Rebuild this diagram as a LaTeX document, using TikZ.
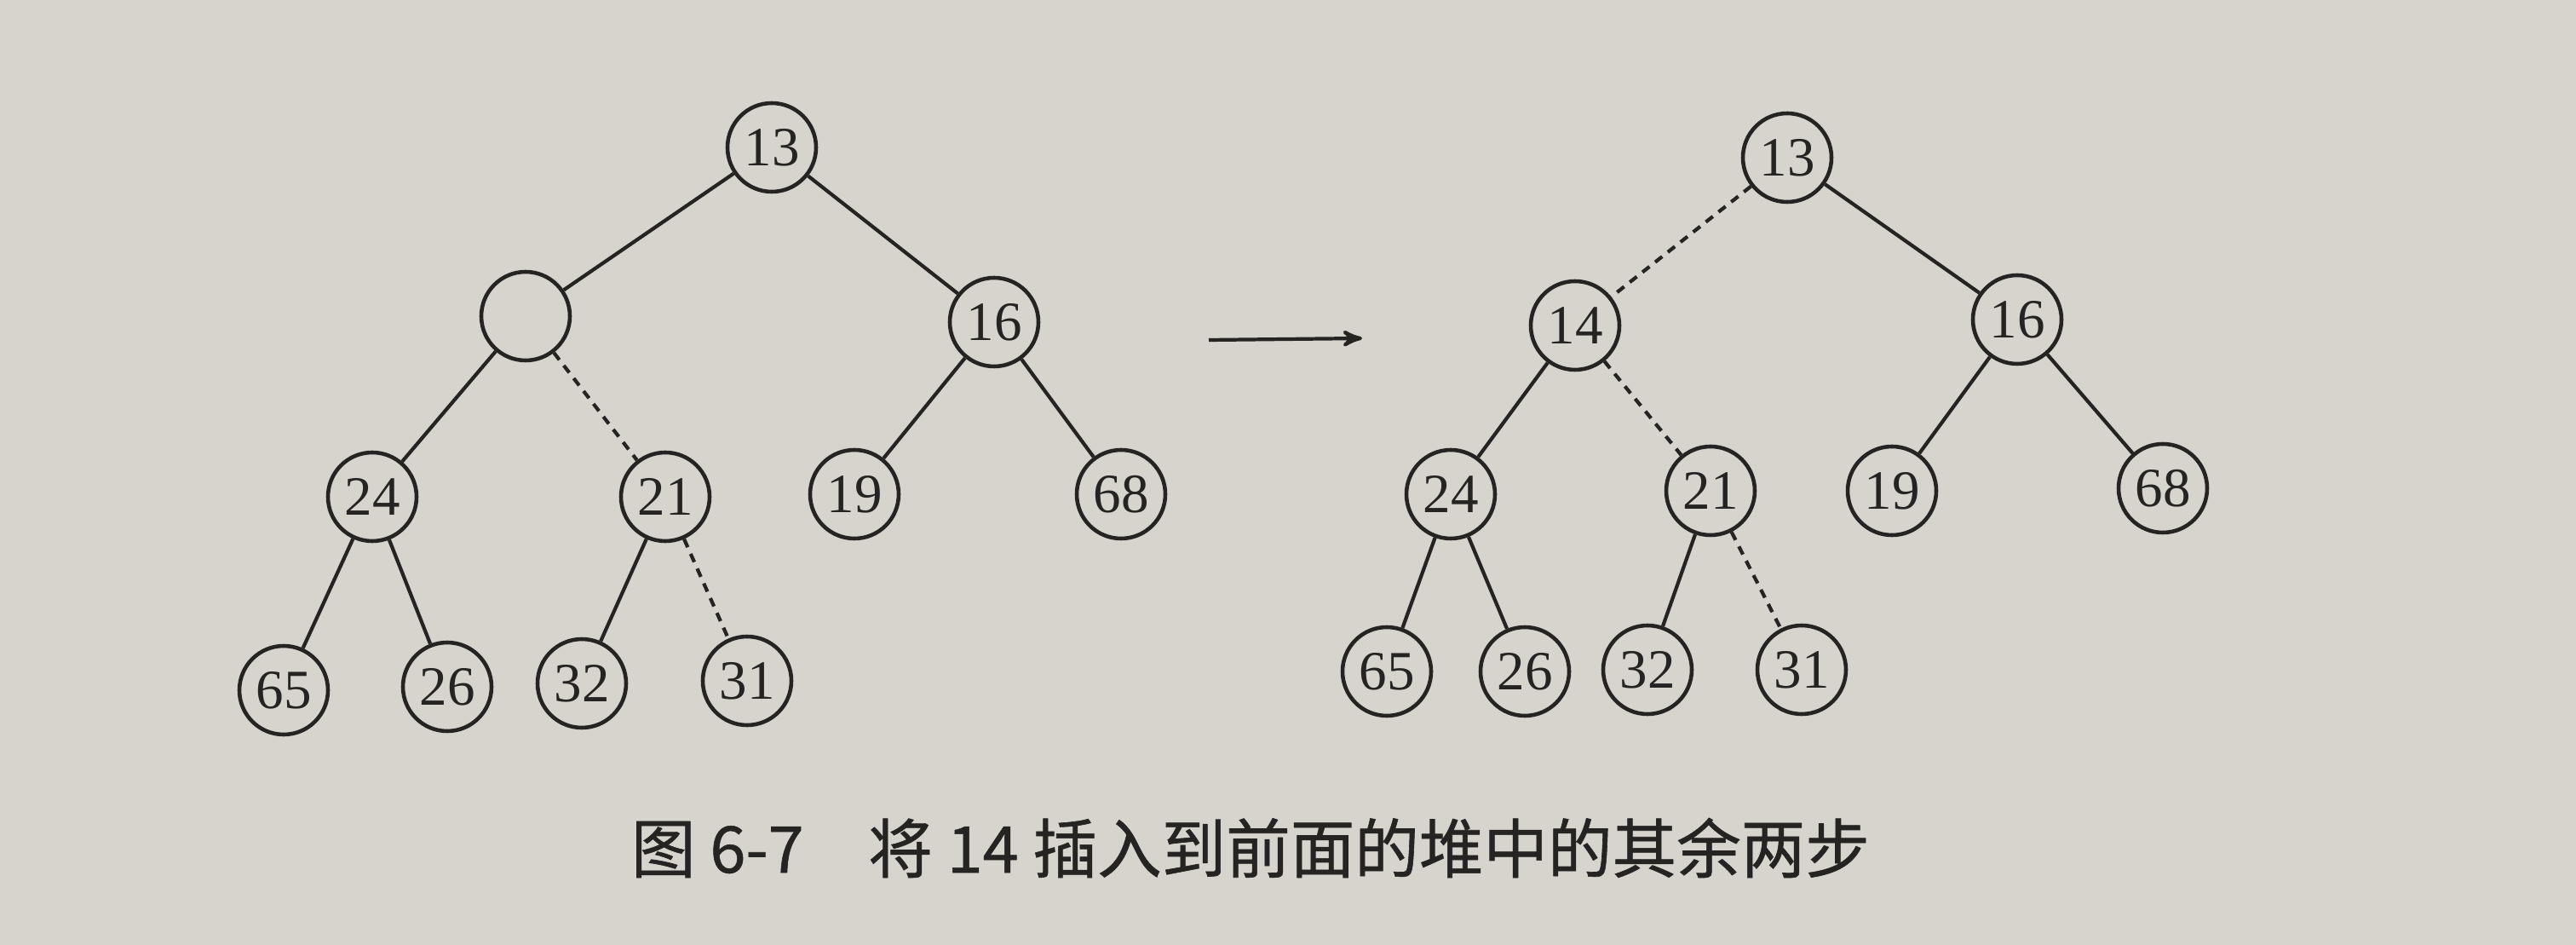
\documentclass[tikz,border=0pt]{standalone}
\usepackage{fontspec}
\setmainfont{Liberation Serif}
\newfontfamily\cjk[FakeBold=0.8]{Noto Sans CJK SC}
\usetikzlibrary{arrows}
\definecolor{paper}{RGB}{214,212,204}
\definecolor{ink}{RGB}{38,36,34}

\begin{document}
\begin{tikzpicture}[-,>=stealth',line width=1.2pt,draw=ink,
                    main node/.style={circle,draw=ink,line width=1.3pt,minimum size=1.04cm,inner sep=0pt,
                                      text=ink,font=\fontsize{18.5}{18.5}\selectfont}]
  \fill[paper] (0,0) rectangle (30.24,-11.09);
  \useasboundingbox (0,0) rectangle (30.24,-11.09);

  % heap with the hole
  \node[main node] (l13) at (9.06,-1.73) {13};
  \node[main node] (lx)  at (6.17,-3.71) {};
  \node[main node] (l16) at (11.67,-3.78) {16};
  \node[main node] (l24) at (4.37,-5.83) {24};
  \node[main node] (l21) at (7.81,-5.83) {21};
  \node[main node] (l19) at (10.03,-5.80) {19};
  \node[main node] (l68) at (13.16,-5.80) {68};
  \node[main node] (l65) at (3.33,-8.10) {65};
  \node[main node] (l26) at (5.25,-8.06) {26};
  \node[main node] (l32) at (6.83,-8.02) {32};
  \node[main node] (l31) at (8.77,-7.99) {31};

  % heap after 14 is in place
  \node[main node] (r13) at (20.98,-1.85) {13};
  \node[main node] (r14) at (18.49,-3.82) {14};
  \node[main node] (r16) at (23.68,-3.75) {16};
  \node[main node] (r24) at (17.03,-5.80) {24};
  \node[main node] (r21) at (20.08,-5.76) {21};
  \node[main node] (r19) at (22.21,-5.76) {19};
  \node[main node] (r68) at (25.39,-5.73) {68};
  \node[main node] (r65) at (16.28,-7.88) {65};
  \node[main node] (r26) at (17.90,-7.88) {26};
  \node[main node] (r32) at (19.34,-7.86) {32};
  \node[main node] (r31) at (21.15,-7.86) {31};

  \coordinate (a1) at (14.19,-3.99);
  \coordinate (a2) at (15.99,-3.97);

  \path[every edge/.style={draw=ink,line width=1.2pt},
        hole/.style={dash pattern=on 3pt off 2.4pt}]
    (l13) edge (lx)
          edge (l16)
    (lx)  edge (l24)
          edge [hole] (l21)
    (l16) edge (l19)
          edge (l68)
    (l24) edge (l65)
          edge (l26)
    (l21) edge (l32)
          edge [hole] (l31)
    (r13) edge [hole] (r14)
          edge (r16)
    (r14) edge (r24)
          edge [hole] (r21)
    (r16) edge (r19)
          edge (r68)
    (r24) edge (r65)
          edge (r26)
    (r21) edge (r32)
          edge [hole] (r31);

  \draw[->,line width=1.2pt] (a1) -- (a2);

  \node[text=ink,font=\cjk\fontsize{21.5}{21.5}\selectfont] (cap) at (14.68,-9.95)
    {图 6-7\quad 将 14 插入到前面的堆中的其余两步};
\end{tikzpicture}
\end{document}
